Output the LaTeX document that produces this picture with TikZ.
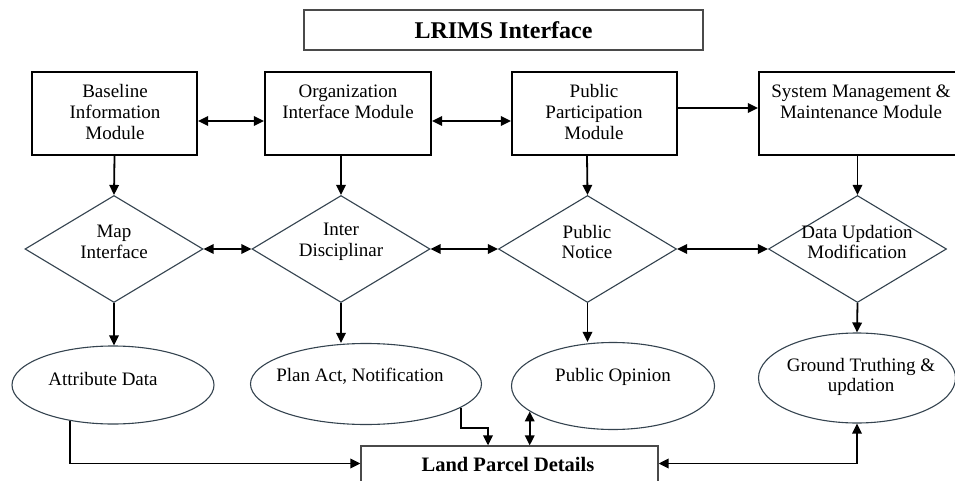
\documentclass[tikz,border=0pt]{standalone}
\usepackage{fontspec}
\setmainfont{Liberation Serif}
\usetikzlibrary{arrows.meta,shapes.geometric,calc}
\definecolor{shapeline}{HTML}{34434F}
\definecolor{thinline}{HTML}{4A4A4A}
\begin{document}
\begin{tikzpicture}[x=1pt,y=-1pt,
  modbox/.style={draw=black, line width=2.2pt, minimum width=#1, minimum height=83pt, inner sep=0pt},
  modbox/.default=165pt,
  dia/.style={diamond, draw=shapeline, line width=1.1pt, minimum width=178pt, minimum height=107pt, inner sep=0pt},
  ell/.style={ellipse, draw=shapeline, line width=1.1pt, inner sep=0pt},
  lbl/.style={font=\fontsize{19}{20.7}\selectfont, align=center, inner sep=0pt},
  ar/.style={line width=1.8pt, -{Triangle[length=10pt,width=9.5pt]}},
  dar/.style={line width=1.8pt, {Triangle[length=10pt,width=9.5pt]}-{Triangle[length=10pt,width=9.5pt]}}
]
\useasboundingbox (0,0) rectangle (955,481);

% title
\node[draw=thinline, line width=1.4pt, minimum width=399pt, minimum height=40pt, inner sep=0pt,
      font=\fontsize{24}{26}\selectfont\bfseries] (title) at (503.5,30) {LRIMS Interface};

% module boxes
\node[modbox] (b1) at (114.5,113.5) {};
\node[modbox=166pt] (b2) at (348,113.5) {};
\node[modbox] (b3) at (594.5,113.5) {};
\node[modbox=212pt] (b4) at (865,113.5) {};
\node[lbl] (b1t) at (115,112) {Baseline\\Information\\Module};
\node[lbl] (b2t) at (348,102) {Organization\\Interface Module};
\node[lbl] (b3t) at (594,112) {Public\\Participation\\Module};
\node[lbl] (b4t) at (861,102) {System Management \&\\Maintenance Module};

% diamonds
\node[dia] (d1) at (114,249) {};
\node[dia] (d2) at (341,249) {};
\node[dia] (d3) at (587.5,249) {};
\node[dia] (d4) at (857.5,249) {};
\node[lbl] (d1t) at (114,242) {Map\\Interface};
\node[lbl] (d2t) at (341,242) {Inter\\Disciplinar};
\node[lbl] (d3t) at (587,242) {Public\\Notice};
\node[lbl] (d4t) at (857,242) {Data Updation\\Modification};

% ellipses
\node[ell, minimum width=202pt, minimum height=78pt] (e1) at (113,385) {};
\node[ell, minimum width=231pt, minimum height=81pt] (e2) at (366,384) {};
\node[ell, minimum width=203pt, minimum height=87pt] (e3) at (613,386) {};
\node[ell, minimum width=197pt, minimum height=90pt] (e4) at (857,378) {};
\node[lbl] (e1t) at (103,379) {Attribute Data};
\node[lbl] (e2t) at (360,376) {Plan Act, Notification};
\node[lbl] (e3t) at (613,377) {Public Opinion};
\node[lbl] (e4t) at (861,377) {Ground Truthing \&\\updation};

% land parcel box
\node[draw=thinline, line width=1.3pt, minimum width=297pt, minimum height=39pt, inner sep=0pt] (lp) at (509.5,465.5) {};
\node[font=\fontsize{20.5}{22}\selectfont\bfseries, inner sep=0pt] (lpt) at (508,464) {Land Parcel Details};

% box-to-box arrows
\draw[dar] ([yshift=-7.5pt]b1.east) -- ([yshift=-7.5pt]b2.west);
\draw[dar] ([yshift=-7.5pt]b2.east) -- ([yshift=-7.5pt]b3.west);
\draw[ar] ([yshift=5.5pt]b3.east) -- ([yshift=5.5pt]b4.west);

% box-to-diamond arrows
\draw[ar] (b1.south) -- (d1.north);
\draw[ar] ([xshift=-7pt]b2.south) -- (d2.north);
\draw[ar] ([xshift=-7.5pt]b3.south) -- (d3.north);
\draw[ar] ([xshift=-7.5pt]b4.south) -- (d4.north);

% diamond-to-diamond arrows
\draw[dar] (d1.east) -- (d2.west);
\draw[dar] (d2.east) -- (d3.west);
\draw[dar] (d3.east) -- (d4.west);

% diamond-to-ellipse arrows
\draw[ar] (d1.south) -- (d1.south |- e1.north);
\draw[ar] (d2.south) -- (d2.south |- e2.north);
\draw[ar] (d3.south) -- (d3.south |- e3.north);
\draw[ar] (d4.south) -- (e4.north);

% ellipses to land parcel details
\draw[ar] (e1.220) |- ([yshift=2pt]lp.west);
\coordinate (e2k) at (488,428);
\draw[ar] (e2.-14) |- (e2k) -- (e2k |- lp.north);
\draw[dar] (e3.197 |- lp.north) -- (e3.197);
\draw[dar] (e4.south) |- ([yshift=2pt]lp.east);
\end{tikzpicture}
\end{document}
